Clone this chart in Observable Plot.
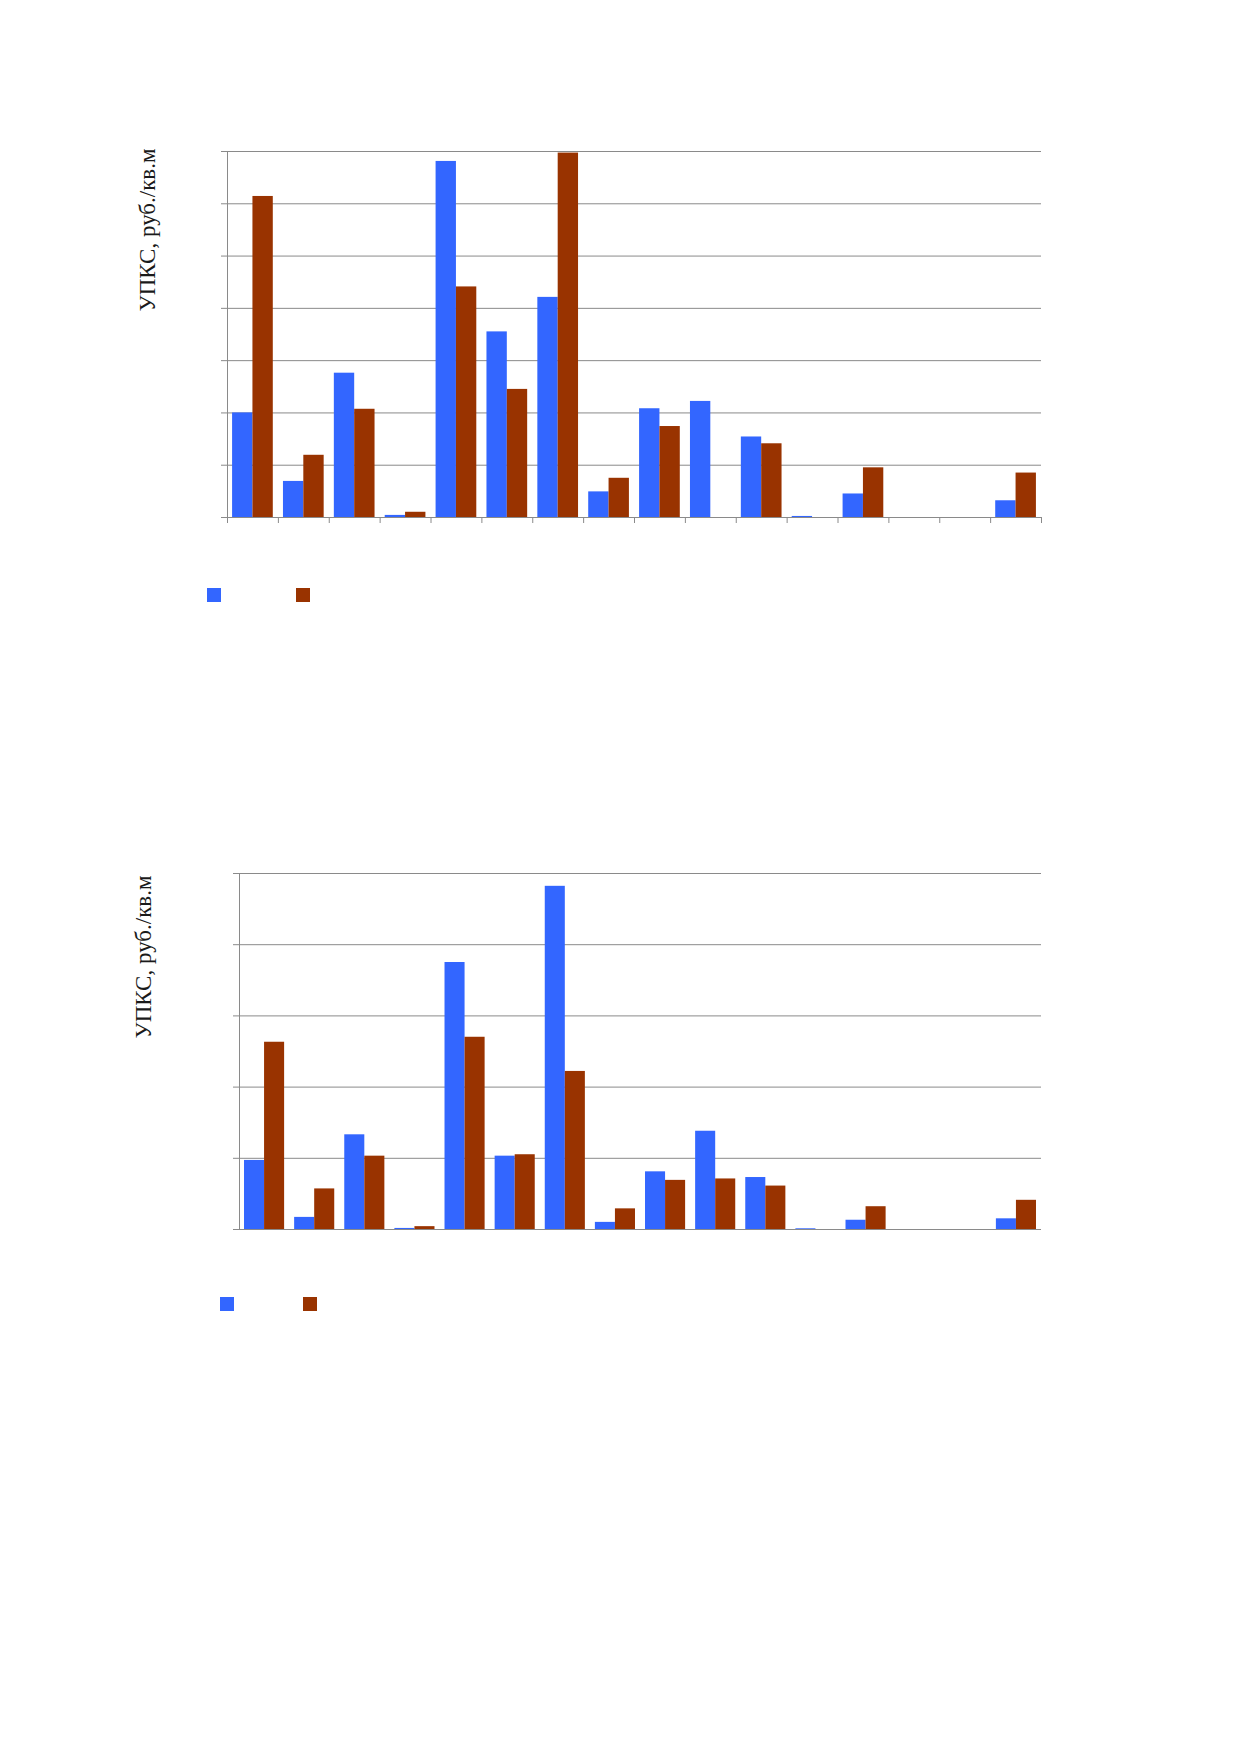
<!DOCTYPE html>
<html>
<head>
<meta charset="utf-8">
<script src="https://cdn.jsdelivr.net/npm/d3@7"></script>
<script src="https://cdn.jsdelivr.net/npm/@observablehq/plot@0.6"></script>
<style>
  html, body { margin: 0; padding: 0; background: #fff; }
  #page { position: relative; width: 1239px; height: 1754px; background: #fff; overflow: hidden; }
  .chart { position: absolute; left: 0; }
  .ylabel { position: absolute; white-space: nowrap; font-family: "Liberation Serif", "DejaVu Serif", serif; font-size: 23px; color: #1a1a1a; transform: translate(-50%, -50%) rotate(-90deg); }
  .swatch { position: absolute; width: 14px; height: 14px; }
</style>
</head>
<body>
<div id="page"></div>
<script>
// ---- data ----
const categories = ["1","2","3","4","5","6","7","8","9","10","11","12","13","14","15","16"];
const seriesNames = ["Ряд 1", "Ряд 2"];
const seriesColors = ["#3366FF", "#993300"];
const yTitle = "УПКС, руб./кв.м";

const chart1Blue  = [2.00, 0.69, 2.76, 0.04, 6.81, 3.55, 4.21, 0.49, 2.08, 2.22, 1.54, 0.02, 0.45, 0, 0, 0.32];
const chart1Brown = [6.14, 1.19, 2.07, 0.10, 4.41, 2.45, 6.97, 0.75, 1.74, 0,    1.41, 0,    0.95, 0, 0, 0.85];
const chart1Ticks = [0, 1, 2, 3, 4, 5, 6, 7];

const chart2Blue  = [0.97, 0.17, 1.33, 0.015, 3.75, 1.03, 4.82, 0.10, 0.81, 1.38, 0.73, 0.01, 0.13, 0, 0, 0.15];
const chart2Brown = [2.63, 0.57, 1.03, 0.04,  2.70, 1.05, 2.22, 0.29, 0.69, 0.71, 0.61, 0,    0.32, 0, 0, 0.41];
const chart2Ticks = [0, 1, 2, 3, 4, 5];

// ---- drawing ----
const page = document.getElementById("page");
const W = 1239;
const gridColor = "#8a8a8a";

function drawChart(cfg) {
  const rows = categories.map((c, i) => ({cat: c, a: cfg.blue[i], b: cfg.brown[i]}));
  const plotW = W - cfg.marginLeft - cfg.marginRight;
  const step = plotW / categories.length;
  const pad = 0.2;
  const bw = step * (1 - pad);
  const ymax = cfg.ticks[cfg.ticks.length - 1];
  const marks = [
    Plot.gridY(cfg.ticks, {stroke: gridColor, strokeOpacity: 1, strokeWidth: 1}),
    Plot.axisY(cfg.ticks, {tickSize: 6, stroke: gridColor, strokeOpacity: 1, tickFormat: () => null, label: null}),
    Plot.frame({anchor: "left", stroke: gridColor}),
    Plot.barY(rows, {x: "cat", y: "a", fill: seriesColors[0], insetRight: bw / 2, insetLeft: 0}),
    Plot.barY(rows, {x: "cat", y: "b", fill: seriesColors[1], insetLeft: bw / 2, insetRight: 0})
  ];
  if (cfg.bottomTicks) {
    marks.push(Plot.axisX(categories, {tickSize: 6, stroke: gridColor, strokeOpacity: 1, tickFormat: () => null, label: null, dx: -step / 2}));
    marks.push(Plot.axisX([categories[categories.length - 1]], {tickSize: 6, stroke: gridColor, strokeOpacity: 1, tickFormat: () => null, label: null, dx: step / 2}));
  }
  const svg = Plot.plot({
    width: W,
    height: cfg.height,
    marginLeft: cfg.marginLeft,
    marginRight: cfg.marginRight,
    marginTop: cfg.marginTop,
    marginBottom: cfg.marginBottom,
    style: {background: "transparent"},
    x: {domain: categories, type: "band", paddingInner: pad, paddingOuter: pad / 2, round: false, axis: null},
    y: {domain: [0, ymax], axis: null},
    marks
  });
  svg.classList.add("chart");
  svg.style.top = cfg.top + "px";
  page.appendChild(svg);

  const lab = document.createElement("div");
  lab.className = "ylabel";
  lab.textContent = yTitle;
  lab.style.left = cfg.labelX + "px";
  lab.style.top = cfg.labelY + "px";
  page.appendChild(lab);

  cfg.legend.forEach((p, i) => {
    const s = document.createElement("div");
    s.className = "swatch";
    s.title = seriesNames[i];
    s.style.background = seriesColors[i];
    s.style.left = p[0] + "px";
    s.style.top = p[1] + "px";
    page.appendChild(s);
  });
}

drawChart({
  blue: chart1Blue, brown: chart1Brown, ticks: chart1Ticks,
  top: 121, height: 426, marginTop: 30, marginBottom: 30,
  marginLeft: 227, marginRight: 198, bottomTicks: true,
  labelX: 148, labelY: 230,
  legend: [[207, 588], [296, 588]]
});

drawChart({
  blue: chart2Blue, brown: chart2Brown, ticks: chart2Ticks,
  top: 843, height: 416, marginTop: 30, marginBottom: 30,
  marginLeft: 239, marginRight: 198, bottomTicks: false,
  labelX: 144, labelY: 957,
  legend: [[220, 1297], [303, 1297]]
});
</script>
</body>
</html>
